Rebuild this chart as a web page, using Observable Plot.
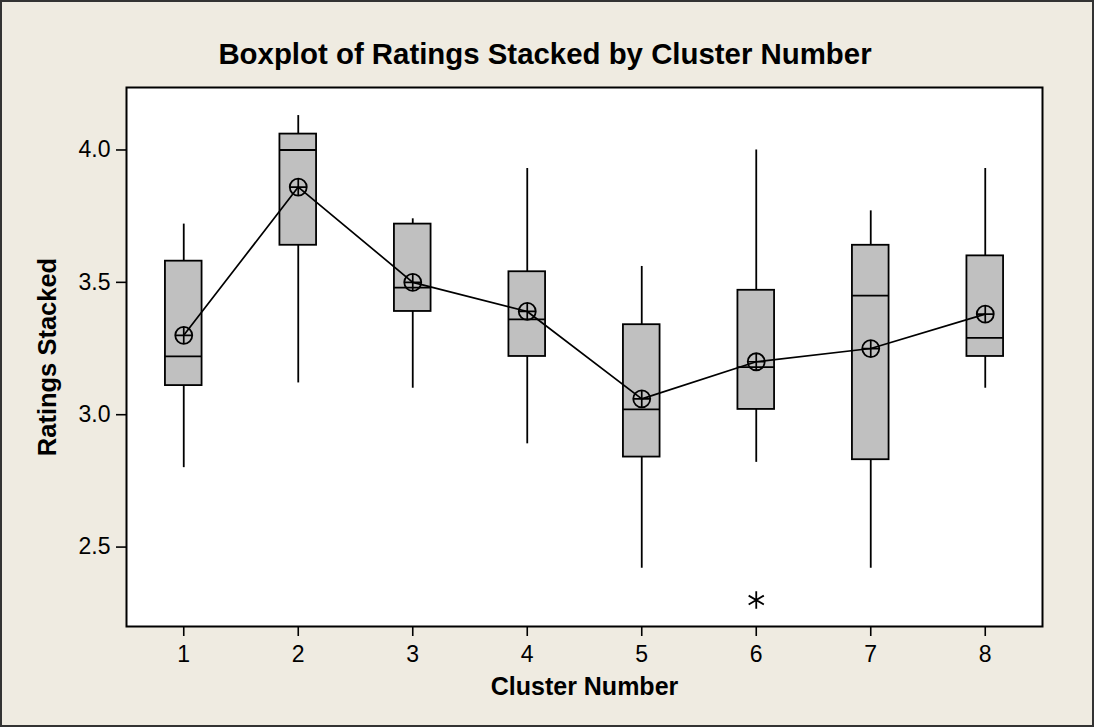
<!DOCTYPE html>
<html><head><meta charset="utf-8">
<script src="https://cdn.jsdelivr.net/npm/d3@7"></script>
<script src="https://cdn.jsdelivr.net/npm/@observablehq/plot@0.6"></script>
<style>
body{margin:0;}
#wrap{position:relative;width:1094px;height:727px;background:#EFEBE1;overflow:hidden;font-family:"Liberation Sans",Arial,sans-serif;}
#title{height:80px;box-sizing:border-box;padding-top:39px;font-weight:bold;font-size:29.4px;line-height:29px;text-align:center;padding-right:4px;color:#000;white-space:nowrap;}
#border{position:absolute;left:0;top:0;width:1094px;height:727px;box-sizing:border-box;border:2px solid #333;pointer-events:none;}
</style></head><body>
<div id="wrap"><div id="title">Boxplot of Ratings Stacked by Cluster Number</div><div id="chart"></div><div id="border"></div></div>
<script>
const clusters    = [1, 2, 3, 4, 5, 6, 7, 8];
const whiskerLow  = [2.80, 3.12, 3.10, 2.89, 2.42, 2.82, 2.42, 3.10];
const q1          = [3.11, 3.64, 3.39, 3.22, 2.84, 3.02, 2.83, 3.22];
const median      = [3.22, 4.00, 3.48, 3.36, 3.02, 3.18, 3.45, 3.29];
const q3          = [3.58, 4.06, 3.72, 3.54, 3.34, 3.47, 3.64, 3.60];
const whiskerHigh = [3.72, 4.13, 3.74, 3.93, 3.56, 4.00, 3.77, 3.93];
const mean        = [3.30, 3.86, 3.50, 3.39, 3.06, 3.20, 3.25, 3.38];
const outlierCluster = [6];
const outlierValue   = [2.30];
const yTicks = [2.5, 3.0, 3.5, 4.0];

const rows = clusters.map((c, i) => ({cluster: c, lo: whiskerLow[i], q1: q1[i], med: median[i], q3: q3[i], hi: whiskerHigh[i], mean: mean[i]}));
const outlierRows = outlierCluster.map((c, i) => ({cluster: c, value: outlierValue[i]}));
const hw = 0.16;

const plot = Plot.plot({
  width: 1094, height: 647,
  marginTop: 7, marginBottom: 101, marginLeft: 126, marginRight: 52,
  style: {background: "transparent", fontFamily: '"Liberation Sans", Arial, sans-serif', fontSize: "23px", color: "#000", overflow: "visible"},
  x: {domain: [0.5, 8.5]},
  y: {domain: [2.2, 4.236]},
  marks: [
    Plot.frame({fill: "white", stroke: "none"}),
    Plot.axisX({ticks: clusters, tickFormat: d => String(d), tickSize: 10, tickPadding: 9, strokeWidth: 1.6, fontSize: "23px", label: null}),
    Plot.axisY({ticks: yTicks, tickFormat: d => d.toFixed(1), tickSize: 10, tickPadding: 6, strokeWidth: 1.6, fontSize: "23px", label: null}),
    Plot.ruleX(rows, {x: "cluster", y1: "lo", y2: "q1", stroke: "black", strokeWidth: 1.8}),
    Plot.ruleX(rows, {x: "cluster", y1: "q3", y2: "hi", stroke: "black", strokeWidth: 1.8}),
    Plot.rect(rows, {x1: d => d.cluster - hw, x2: d => d.cluster + hw, y1: "q1", y2: "q3", fill: "#C0C0C0", stroke: "black", strokeWidth: 1.8}),
    Plot.ruleY(rows, {y: "med", x1: d => d.cluster - hw, x2: d => d.cluster + hw, stroke: "black", strokeWidth: 1.8}),
    Plot.line(rows, {x: "cluster", y: "mean", stroke: "black", strokeWidth: 1.7}),
    Plot.dot(rows, {x: "cluster", y: "mean", r: 8.5, stroke: "black", strokeWidth: 1.8, fill: "none"}),
    Plot.dot(rows, {x: "cluster", y: "mean", symbol: "plus", r: 5.5, stroke: "black", strokeWidth: 1.7}),
    Plot.dot(outlierRows, {x: "cluster", y: "value", symbol: "asterisk", r: 8.3, stroke: "black", strokeWidth: 1.8}),
    Plot.frame({stroke: "black", strokeWidth: 2}),
    Plot.text(["Cluster Number"], {frameAnchor: "bottom", dy: 60, lineAnchor: "middle", textAnchor: "middle", fontWeight: "bold", fontSize: 25, fill: "black"}),
    Plot.text(["Ratings Stacked"], {frameAnchor: "left", dx: -79, rotate: -90, lineAnchor: "middle", textAnchor: "middle", fontWeight: "bold", fontSize: 25.5, fill: "black"})
  ]
});
document.getElementById("chart").appendChild(plot);
</script>
</body></html>
